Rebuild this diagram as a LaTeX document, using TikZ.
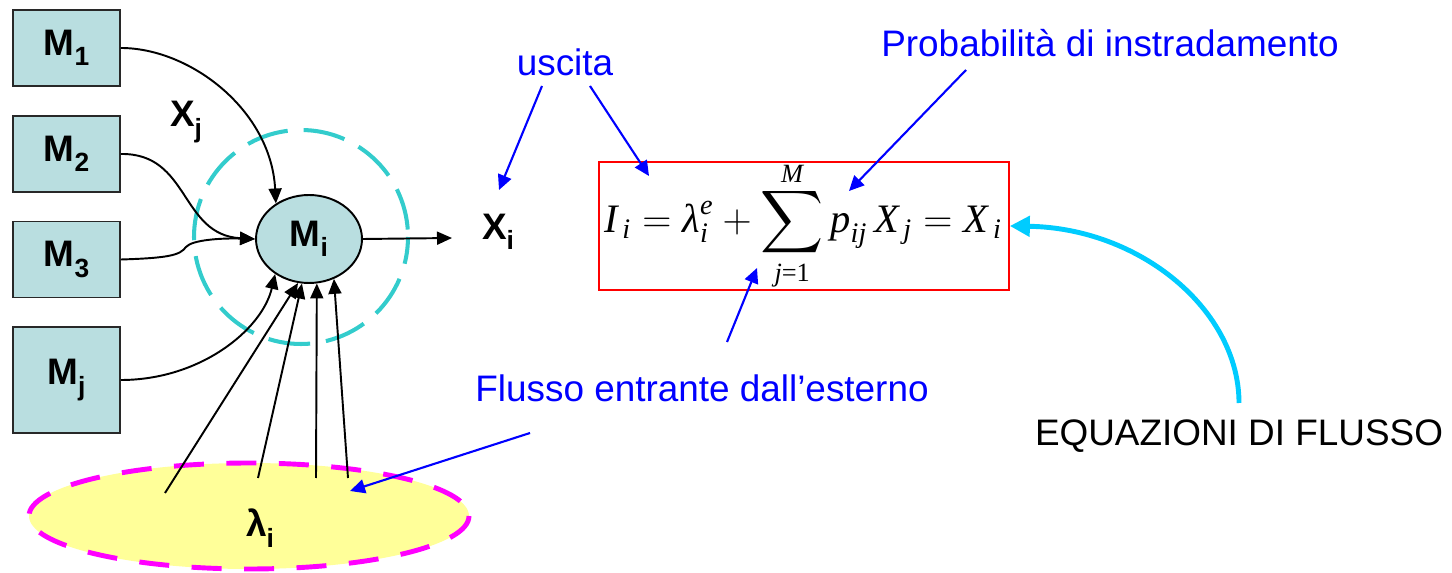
\RequirePackage{fix-cm}
\documentclass[tikz,border=0pt]{standalone}
\usepackage{amsmath}
\usepackage{fontspec}
\setmainfont{Liberation Sans}
\newfontfamily\eqfont{Liberation Serif}
\usetikzlibrary{shapes.geometric,arrows.meta}
\definecolor{boxfill}{RGB}{185,222,224}
\definecolor{boxline}{RGB}{40,40,40}
\definecolor{ringcyan}{RGB}{51,204,204}
\definecolor{yellowfill}{RGB}{255,255,153}
\definecolor{magentaline}{RGB}{255,0,255}
\definecolor{skyarrow}{RGB}{0,204,255}
\newcommand\lsub[1]{\raisebox{-0.28em}{\fontsize{15}{15}\selectfont #1}}
\newcommand\ei[1]{\text{\eqfont\itshape #1}}
\newcommand\er[1]{\text{\eqfont #1}}
\newcommand\limtxt[2]{\raisebox{#1}[11pt][0pt]{\fontsize{15}{15}\selectfont\eqfont #2}}
\begin{document}
\begin{tikzpicture}[x=0.02cm,y=-0.02cm,
  every node/.style={inner sep=0pt, font=\fontsize{21}{25}\selectfont},
  lbl/.style={font=\fontsize{21}{25}\selectfont\bfseries},
  mbox/.style={draw=boxline, line width=1.1pt, fill=boxfill, minimum width=2.14cm, minimum height=1.52cm, font=\fontsize{21}{25}\selectfont\bfseries},
  flow/.style={line width=1.1pt, -{Triangle[length=0.3cm,width=0.26cm]}},
  note/.style={draw=blue, line width=1.2pt, -{Triangle[length=0.3cm,width=0.28cm]}},
  bluetext/.style={text=blue}]
\useasboundingbox (0,0) rectangle (1452,573);

% background shapes
\draw[magentaline, fill=yellowfill, line width=2.8pt, dash pattern=on 0.6cm off 0.45cm] (249,516) ellipse[x radius=220, y radius=53];
\draw[ringcyan, line width=2.3pt, dash pattern=on 0.84cm off 0.32cm, dash phase=0.3cm] (301,237) circle[radius=107];

% boxes
\node[mbox] (m1) at (66.5,48) {M\lsub{1}};
\node[mbox] (m2) at (66.5,154) {M\lsub{2}};
\node[mbox] (m3) at (66.5,259.5) {M\lsub{3}};
\node[mbox, minimum height=2.12cm] (mj) at (66.5,380) {M\lsub{j}};
\node[ellipse, draw=black, line width=1.1pt, fill=boxfill, minimum width=2.12cm, minimum height=1.76cm, font=\fontsize{21}{25}\selectfont\bfseries] (mi) at (309,239) {M\lsub{i}};

% labels
\node[lbl] (xj) at (186,122) {X\lsub{j}};
\node[lbl] (xi) at (498,232) {X\lsub{i}};
\node[lbl] (lam) at (260,528) {λ\lsub{i}};
\node[bluetext] (usc) at (565,62) {uscita};
\node[bluetext] (prob) at (1110,43) {Probabilità di instradamento};
\node[bluetext] (flusso) at (702,388) {Flusso entrante dall’esterno};
\node (eqlabel) at (1239,436) {EQUAZIONI DI FLUSSO};
\node[draw=red, line width=1pt, minimum width=8.2cm, minimum height=2.56cm] (box) at (804,226) {};
\node[font=\fontsize{23}{27}\selectfont] (eq) at (803,227)
  {$\displaystyle \ei{I}_{\,\ei{i}} = \ei{λ}_{\ei{i}}^{\ei{e}} + \sum_{\limtxt{4pt}{\itshape j\upshape =1}}^{\limtxt{-5pt}{\itshape M}} \ei{p}_{\ei{ij}}\, \ei{X}_{\,\ei{j}} = \ei{X}_{\,\ei{i}}$};

% coordinates for free ends
\coordinate (xiin) at (452,238);
\coordinate (l1) at (165,493);
\coordinate (l2) at (258,478);
\coordinate (l3) at (316,478);
\coordinate (l4) at (348,478);
\coordinate (uscA) at (542,86);
\coordinate (uscB) at (590,86);
\coordinate (xitop) at (499,190);
\coordinate (eqI) at (649,176);
\coordinate (probstart) at (966,70);
\coordinate (eqp) at (849,191);
\coordinate (flstart) at (727,342);
\coordinate (eqsum) at (757,268);
\coordinate (fl2start) at (530,433);
\coordinate (lamtip) at (350,491);
\coordinate (eqstart) at (1239,403);

% flows into Mi
\draw[flow] (m1.east) .. controls (190,48) and (271,110) .. (mi.133);
\draw[flow] (m2.east) .. controls (190,153) and (180,235) .. (mi.west);
\draw[flow] (m3.east) .. controls (170,258) and (180,255) .. (186,247) .. controls (192,240) and (220,238) .. (mi.west);
\draw[flow] (mj.east) .. controls (200,380) and (262,330) .. (mi.226);
\draw[flow] (l1) -- (mi.256);
\draw[flow] (l2) -- (mi.261);
\draw[flow] (l3) -- (mi.280);
\draw[flow] (l4) -- (mi.302);
\draw[flow] (mi.east) -- (xiin);

% annotations
\draw[note] (uscA) -- (xitop);
\draw[note] (uscB) -- (eqI);
\draw[note] (probstart) -- (eqp);
\draw[note] (flstart) -- (eqsum);
\draw[note] (fl2start) -- (lamtip);
\draw[skyarrow, line width=2.8pt, -{Triangle[length=0.4cm,width=0.4cm]}] (eqstart) .. controls (1239,310) and (1140,228) .. (box.east);
\end{tikzpicture}
\end{document}
